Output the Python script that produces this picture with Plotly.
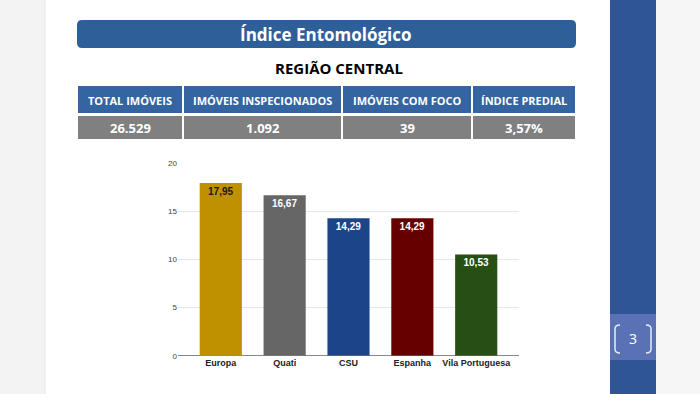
import plotly.graph_objects as go

# ---- data ----
categories = ["Europa", "Quati", "CSU", "Espanha", "Vila Portuguesa"]
values = [17.95, 16.67, 14.29, 14.29, 10.53]
bar_colors = ["#bf9000", "#666666", "#1c4587", "#660000", "#274e13"]
label_colors = ["#1a1a1a", "#ffffff", "#ffffff", "#ffffff", "#ffffff"]
y_ticks = [0, 5, 10, 15, 20]

title_text = "Índice Entomológico"
subtitle_text = "REGIÃO CENTRAL"
table_headers = ["TOTAL IMÓVEIS", "IMÓVEIS INSPECIONADOS", "IMÓVEIS COM FOCO", "ÍNDICE PREDIAL"]
table_values = ["26.529", "1.092", "39", "3,57%"]
page_number = "3"

W, H = 700, 394
def px(x): return x / W
def py(y): return 1 - y / H

fig = go.Figure()
fig.add_trace(go.Bar(
    x=categories, y=values,
    marker=dict(color=bar_colors, line=dict(width=0)),
    width=0.66,
    texttemplate="<b>%{y:.2f}</b>", textposition="inside", insidetextanchor="end",
    textfont=dict(family="Liberation Sans, Arial", size=10, color=label_colors),
    textangle=0, hoverinfo="skip",
))

shapes = []
# left light panel
shapes.append(dict(type="rect", xref="paper", yref="paper", x0=px(0), x1=px(45), y0=0, y1=1,
                   fillcolor="#f3f3f3", line=dict(width=0), layer="below"))
shapes.append(dict(type="line", xref="paper", yref="paper", x0=px(45), x1=px(45), y0=0, y1=1,
                   line=dict(color="#e6e6e6", width=1), layer="below"))
# right light panel
shapes.append(dict(type="rect", xref="paper", yref="paper", x0=px(656), x1=1, y0=0, y1=1,
                   fillcolor="#f6f6f6", line=dict(width=0), layer="below"))
# blue stripe
shapes.append(dict(type="rect", xref="paper", yref="paper", x0=px(610), x1=px(656), y0=0, y1=1,
                   fillcolor="#2f5597", line=dict(width=0), layer="below"))
# page number box
shapes.append(dict(type="rect", xref="paper", yref="paper", x0=px(610), x1=px(656), y0=py(360), y1=py(314),
                   fillcolor="#5a72b5", line=dict(width=0), layer="below"))
# brackets
def bracket(xe, xi, y0, y1):
    r = 4
    return (f"M {px(xe)},{py(y0)} Q {px(xi)},{py(y0)} {px(xi)},{py(y0 + r)} "
            f"L {px(xi)},{py(y1 - r)} Q {px(xi)},{py(y1)} {px(xe)},{py(y1)}")
shapes.append(dict(type="path", xref="paper", yref="paper", path=bracket(620, 615, 325, 353),
                   line=dict(color="#e8ecf6", width=1.5)))
shapes.append(dict(type="path", xref="paper", yref="paper", path=bracket(646, 651, 325, 353),
                   line=dict(color="#e8ecf6", width=1.5)))

# rounded title banner
def rrect(x0, y0, x1, y1, r):
    return (f"M {px(x0 + r)},{py(y0)} L {px(x1 - r)},{py(y0)} Q {px(x1)},{py(y0)} {px(x1)},{py(y0 + r)} "
            f"L {px(x1)},{py(y1 - r)} Q {px(x1)},{py(y1)} {px(x1 - r)},{py(y1)} "
            f"L {px(x0 + r)},{py(y1)} Q {px(x0)},{py(y1)} {px(x0)},{py(y1 - r)} "
            f"L {px(x0)},{py(y0 + r)} Q {px(x0)},{py(y0)} {px(x0 + r)},{py(y0)} Z")
shapes.append(dict(type="path", xref="paper", yref="paper", path=rrect(77, 20, 576, 48, 5),
                   fillcolor="#2f5f98", line=dict(width=0), layer="below"))

# table
col_edges = [77, 183, 342, 472, 576]
annotations = []
for i in range(4):
    x0, x1 = col_edges[i], col_edges[i + 1]
    shapes.append(dict(type="rect", xref="paper", yref="paper", x0=px(x0 + 1), x1=px(x1 - 1),
                       y0=py(113), y1=py(86), fillcolor="#3465a0", line=dict(width=0), layer="below"))
    shapes.append(dict(type="rect", xref="paper", yref="paper", x0=px(x0 + 1), x1=px(x1 - 1),
                       y0=py(139), y1=py(116), fillcolor="#808080", line=dict(width=0), layer="below"))
    annotations.append(dict(xref="paper", yref="paper", x=px((x0 + x1) / 2), y=py(100),
                            text=f"<b>{table_headers[i]}</b>", showarrow=False,
                            font=dict(family="Open Sans", size=11, color="white"),
                            xanchor="center", yanchor="middle"))
    annotations.append(dict(xref="paper", yref="paper", x=px((x0 + x1) / 2), y=py(127.5),
                            text=f"<b>{table_values[i]}</b>", showarrow=False,
                            font=dict(family="Open Sans", size=13, color="white"),
                            xanchor="center", yanchor="middle"))

annotations.append(dict(xref="paper", yref="paper", x=px(326), y=py(34), text=f"<b>{title_text}</b>", showarrow=False,
                        font=dict(family="Open Sans", size=17, color="white"), xanchor="center", yanchor="middle"))
annotations.append(dict(xref="paper", yref="paper", x=px(339), y=py(68), text=f"<b>{subtitle_text}</b>",
                        showarrow=False, font=dict(family="Open Sans", size=15, color="black"),
                        xanchor="center", yanchor="middle"))
annotations.append(dict(xref="paper", yref="paper", x=px(633), y=py(338), text=page_number, showarrow=False,
                        font=dict(family="Open Sans", size=14, color="white"), xanchor="center", yanchor="middle"))

fig.update_layout(
    width=W, height=H, margin=dict(l=0, r=0, t=0, b=0, autoexpand=False),
    paper_bgcolor="white", plot_bgcolor="rgba(0,0,0,0)",
    separators=",.", showlegend=False,
    shapes=shapes, annotations=annotations,
    xaxis=dict(domain=[px(178), px(519)], range=[-0.67, 4.67], showgrid=False, zeroline=False,
               showline=False, ticks="", tickangle=0, automargin=False,
               tickfont=dict(family="Liberation Sans, Arial", size=9, color="#222222"),
               tickprefix="<b>", ticksuffix="</b>", fixedrange=True),
    yaxis=dict(domain=[py(355.7), py(163.3)], range=[0, 20], tickvals=y_ticks, automargin=False,
               showgrid=True, gridcolor="#e6e6e6", gridwidth=1, zeroline=True, zerolinecolor="#888888",
               zerolinewidth=1, showline=False, ticks="",
               tickfont=dict(family="Liberation Sans, Arial", size=8, color="#444444"), fixedrange=True),
)

fig.write_html("out.html", config={"displayModeBar": False},
               post_script="document.body.style.margin='0';document.body.style.overflow='hidden';")
